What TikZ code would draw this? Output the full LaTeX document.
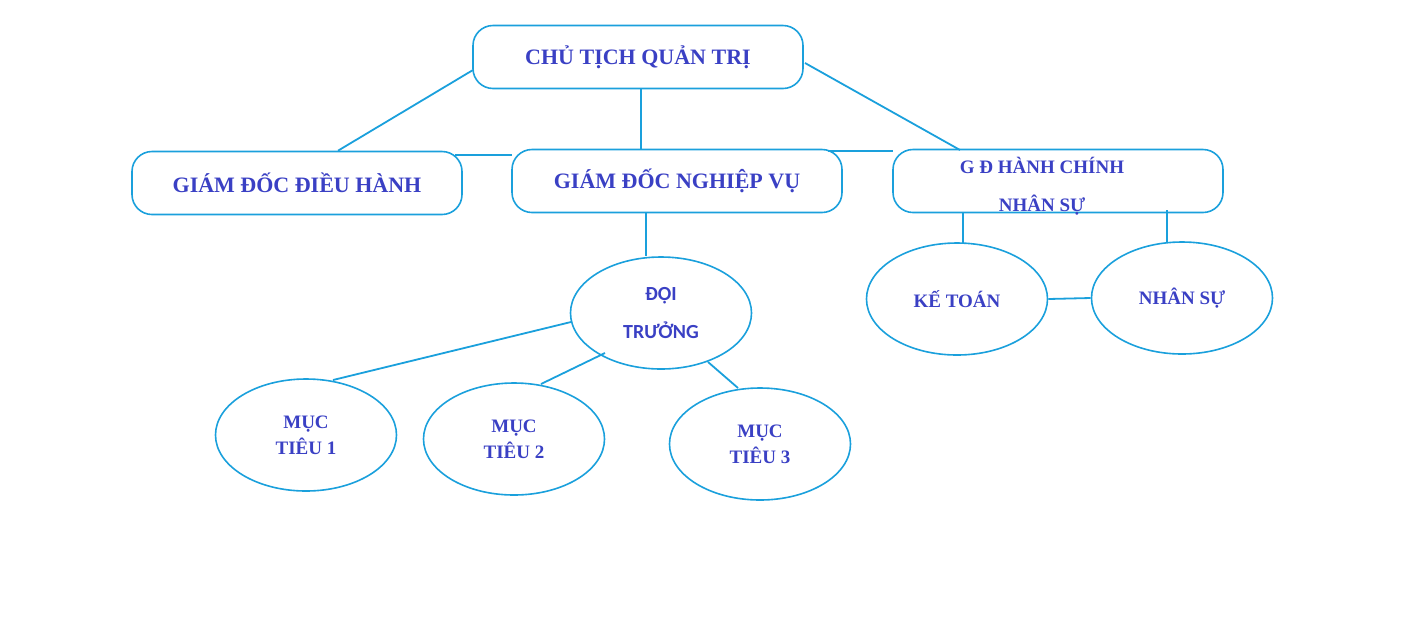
\documentclass[tikz,border=0pt]{standalone}
\usepackage{fontspec}
\setmainfont{Liberation Serif}
\newfontfamily\calib{Carlito}
\usetikzlibrary{shapes.geometric}
\definecolor{ln}{HTML}{1AA0DC}
\definecolor{tx}{HTML}{3A40C4}
\begin{document}
\begin{tikzpicture}[x=1pt,y=-1pt,
  box/.style={draw=ln,line width=1.6pt,rounded corners=20pt,minimum width=330pt,minimum height=63pt,text=tx,font=\fontsize{22}{24}\selectfont\bfseries,align=center,inner sep=0pt},
  ell/.style={draw=ln,line width=1.6pt,ellipse,minimum width=181pt,minimum height=112pt,text=tx,font=\fontsize{19}{26}\selectfont\bfseries,align=center,inner sep=0pt},
  con/.style={ln,line width=1.8pt}]
\useasboundingbox (0,0) rectangle (1416,633);
\node[box] (ct) at (638,57) {CHỦ TỊCH QUẢN TRỊ};
\node[box] (dh) at (297,183) {GIÁM ĐỐC ĐIỀU HÀNH};
\node[box] (nv) at (677,181) {GIÁM ĐỐC NGHIỆP VỤ};
\node[box] (hc) at (1058,181) {};
\node[text=tx,font=\fontsize{19}{38}\selectfont\bfseries,align=center] (hct) at (1042,186) {G Đ HÀNH CHÍNH\\NHÂN SỰ};
\node[ell,font=\fontsize{20}{38}\selectfont\calib\bfseries] (dt) at (661,313) {ĐỘI\\TRƯỞNG};
\node[ell] (kt) at (957,299) {KẾ TOÁN};
\node[ell] (ns) at (1182,298) {NHÂN SỰ};
\node[ell] (m1) at (306,435) {MỤC\\TIÊU 1};
\node[ell] (m2) at (514,439) {MỤC\\TIÊU 2};
\node[ell] (m3) at (760,444) {MỤC\\TIÊU 3};
\draw[con] (473,70) -- (dh.north east -| 338,152);
\draw[con] (ct.south -| 641,0) -- (641,150);
\draw[con] (805,63) -- (960,150);
\draw[con] (455,155) -- (512,155);
\draw[con] (828,151) -- (893,151);
\draw[con] (646,212) -- (dt.north -| 646,0);
\draw[con] (571,322) -- (333,380);
\draw[con] (605,353) -- (541,384);
\draw[con] (708,362) -- (738,388);
\draw[con] (963,213) -- (963,243);
\draw[con] (1167,210) -- (1167,242);
\draw[con] (kt.east) -- (ns.west);
\end{tikzpicture}
\end{document}
